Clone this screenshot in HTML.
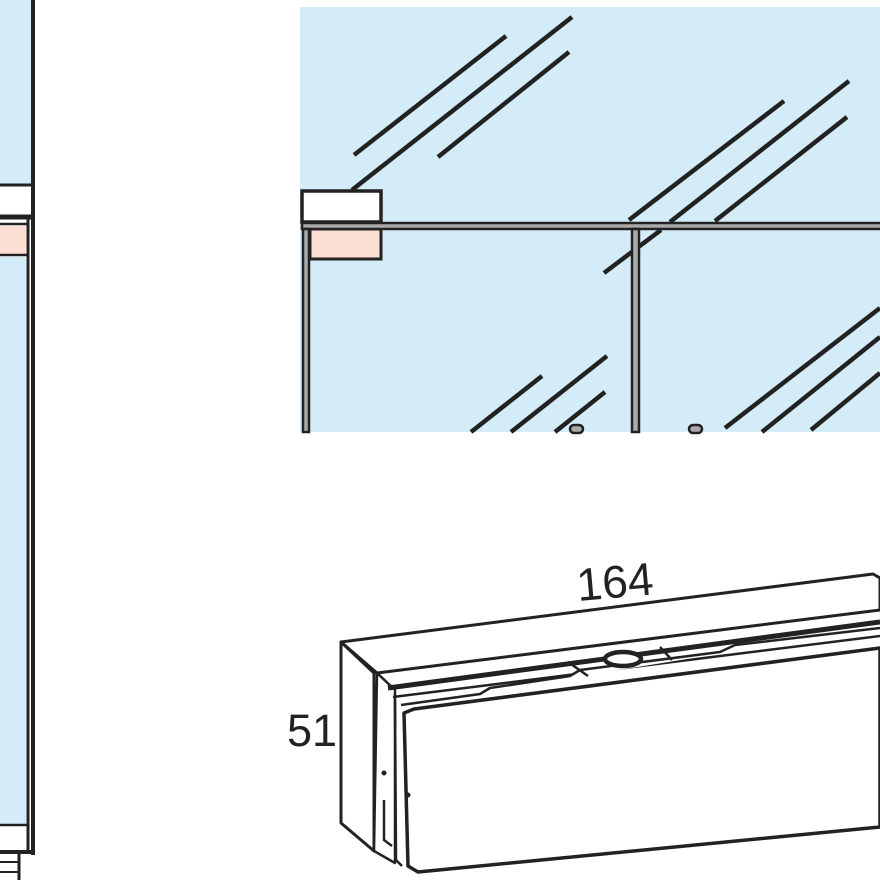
<!DOCTYPE html>
<html><head><style>html,body{margin:0;padding:0;background:#fff}svg{display:block}</style></head>
<body>
<svg width="880" height="880" viewBox="0 0 880 880" xmlns="http://www.w3.org/2000/svg">
<g stroke="#222" fill="none" stroke-width="4">
<!-- left panel -->
<rect x="0" y="0" width="31" height="185" fill="#d3ecf8" stroke="none"/>
<rect x="0" y="187" width="31" height="28" fill="#fff" stroke="none"/>
<rect x="0" y="226" width="26" height="28" fill="#fde0d4" stroke="none"/>
<rect x="0" y="257" width="26" height="567" fill="#d3ecf8" stroke="none"/>
<line x1="0" y1="185" x2="31" y2="185" stroke-width="3"/>
<line x1="0" y1="217" x2="34" y2="217" stroke-width="5"/>
<line x1="0" y1="224" x2="27" y2="224" stroke-width="2.5"/>
<line x1="0" y1="255" x2="27" y2="255" stroke-width="2.5"/>
<line x1="0" y1="825" x2="27" y2="825" stroke-width="2.5"/>
<line x1="0" y1="852" x2="34" y2="852" stroke-width="4"/>
<line x1="33" y1="0" x2="33" y2="855" stroke-width="4"/>
<line x1="28" y1="219" x2="28" y2="852" stroke-width="3"/>
<line x1="19" y1="854" x2="19" y2="880" stroke-width="3"/>
<line x1="0" y1="862" x2="19" y2="862" stroke-width="2"/>
<line x1="0" y1="872" x2="19" y2="872" stroke-width="2"/>
<!-- top right panel -->
<rect x="300" y="7" width="580" height="425" fill="#d3ecf8" stroke="none"/>
<g stroke-width="4.5">
<line x1="354" y1="155" x2="506" y2="36"/>
<line x1="352" y1="190" x2="572" y2="17"/>
<line x1="438" y1="157" x2="569" y2="52"/>
<line x1="629" y1="220" x2="784" y2="101"/>
<line x1="670" y1="222" x2="849" y2="81"/>
<line x1="715" y1="221" x2="847" y2="117"/>
<line x1="604" y1="273" x2="661" y2="230"/>
<line x1="471" y1="432" x2="542" y2="376"/>
<line x1="511" y1="432" x2="607" y2="356"/>
<line x1="555" y1="432" x2="605" y2="392"/>
<line x1="725" y1="428" x2="880" y2="308"/>
<line x1="762" y1="432" x2="880" y2="337"/>
<line x1="811" y1="430" x2="880" y2="373"/>
</g>
<rect x="302" y="191" width="79" height="31" fill="#fff" stroke-width="3.5"/>
<rect x="310" y="229" width="71" height="30" fill="#fde0d4" stroke-width="3"/>
<rect x="302" y="223" width="580" height="6" fill="#aaa" stroke-width="2.5"/>
<rect x="303" y="229" width="6" height="203" fill="#aaa" stroke-width="2.5"/>
<rect x="632" y="229" width="7" height="203" fill="#aaa" stroke-width="2.5"/>
<rect x="570" y="425" width="13" height="8" rx="4" fill="#aaa" stroke-width="2.5"/>
<rect x="689" y="425" width="13" height="8" rx="4" fill="#aaa" stroke-width="2.5"/>
<!-- box -->
<g stroke-width="3" stroke-linejoin="round" fill="#fff">
<path d="M341,642 L873,574 L880,578 L880,610 L377,673 L341,642 Z"/>
<path d="M341,642 L341,823 L374,851 L374,673 Z"/>
<path d="M377,673 L374,851 L395,863 L395,690 Z" stroke-width="2.5"/>
<path d="M388,688 L880,622" stroke-width="5"/>
<path d="M393,697 L880,636" stroke-width="2.5"/>
<path d="M401,705 L480,694 L490,688 L570,676 L580,670 L720,652 L735,645 L880,628" stroke-width="2.5"/>
<path d="M414,709 L880,648 L880,827 L418,872 L408,866 L404,713 Z" stroke-width="3.5"/>
<path d="M395,700 L396,860 L402,866" stroke-width="2.5"/>
<path d="M384,800 L384,840 L392,846" stroke-width="2.5"/>
<ellipse cx="623" cy="659" rx="18" ry="7" stroke-width="4.5"/>
<line x1="568" y1="662" x2="588" y2="676" stroke-width="2.5"/>
<line x1="660" y1="647" x2="672" y2="660" stroke-width="2.5"/>
</g>
<circle cx="384" cy="773" r="2.5" fill="#222" stroke="none"/>
<circle cx="408" cy="795" r="2.5" fill="#222" stroke="none"/>
</g>
<text x="578" y="601" font-family="Liberation Sans, sans-serif" font-size="46" fill="#222" transform="rotate(-5 578 601)">164</text>
<text x="287" y="746" font-family="Liberation Sans, sans-serif" font-size="45" fill="#222">51</text>
</svg>
</body></html>
